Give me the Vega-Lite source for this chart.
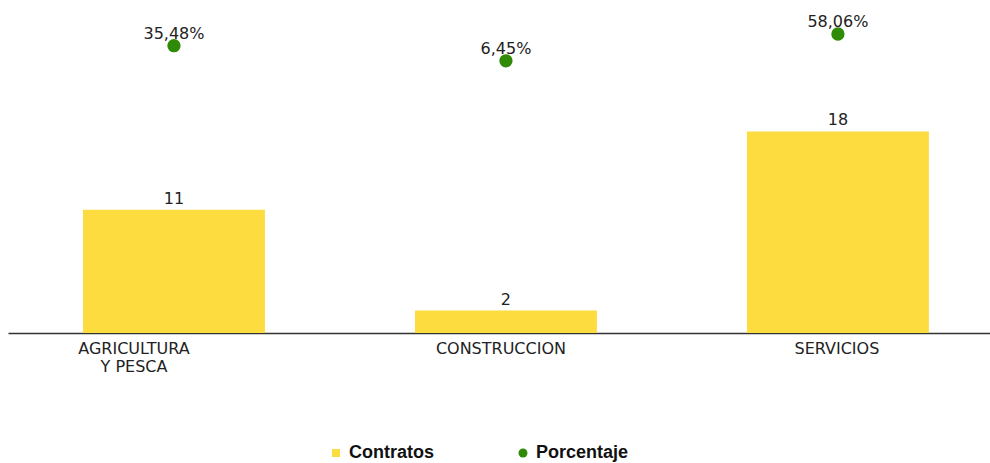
{
  "$schema": "https://vega.github.io/schema/vega-lite/v6.json",
  "width": 982,
  "height": 333,
  "autosize": {"type": "none"},
  "padding": {"left": 8, "top": 0, "right": 0, "bottom": 130},
  "background": "white",
  "config": {"view": {"stroke": null}},
  "data": {
    "values": [
      {"sector": "AGRICULTURA Y PESCA", "contratos": 11, "porcentaje": 35.48, "pct_label": "35,48%"},
      {"sector": "CONSTRUCCION", "contratos": 2, "porcentaje": 6.45, "pct_label": "6,45%"},
      {"sector": "SERVICIOS", "contratos": 18, "porcentaje": 58.06, "pct_label": "58,06%"}
    ]
  },
  "encoding": {
    "x": {
      "field": "sector",
      "type": "nominal",
      "sort": null,
      "scale": {"paddingInner": 0.452, "paddingOuter": 0.205, "align": 0.551},
      "axis": {
        "title": null,
        "labelAngle": 0,
        "ticks": false,
        "labelPadding": 7,
        "labelFont": "DejaVu Sans",
        "labelFontSize": 16,
        "labelColor": "#222222",
        "domainColor": "#333333",
        "domainWidth": 1.5,
        "labelLineHeight": 18,
        "labelOffset": {"expr": "datum.value == 'AGRICULTURA Y PESCA' ? -40 : (datum.value == 'CONSTRUCCION' ? -5 : -1)"},
        "labelExpr": "datum.value == 'AGRICULTURA Y PESCA' ? ['AGRICULTURA', 'Y PESCA'] : datum.label"
      }
    }
  },
  "layer": [
    {
      "encoding": {
        "y": {"field": "contratos", "type": "quantitative", "scale": {"domain": [0, 29.73]}, "axis": null}
      },
      "layer": [
        {
          "mark": {"type": "bar"},
          "encoding": {
            "color": {
              "datum": "Contratos",
              "type": "nominal",
              "scale": {"domain": ["Contratos", "Porcentaje"], "range": ["#FDDC40", "#2F8A05"]},
              "legend": {
                "orient": "none",
                "legendX": 319,
                "legendY": 444,
                "direction": "horizontal",
                "title": null,
                "labelFont": "Liberation Sans",
                "labelFontWeight": "bold",
                "labelFontSize": 18,
                "labelColor": "#111111",
                "labelOffset": 4,
                "columnPadding": 80,
                "symbolSize": 80,
                "symbolStrokeWidth": 0,
                "symbolOpacity": 1,
                "padding": 0,
                "encode": {
                  "symbols": {
                    "update": {
                      "shape": {"signal": "datum.value === 'Contratos' ? 'square' : 'circle'"},
                      "size": {"signal": "datum.value === 'Contratos' ? 64 : 80"}
                    }
                  }
                }
              }
            }
          }
        },
        {
          "mark": {"type": "text", "baseline": "alphabetic", "dy": -6, "font": "DejaVu Sans", "fontSize": 16, "color": "#222222"},
          "encoding": {"text": {"field": "contratos", "type": "quantitative"}}
        }
      ]
    },
    {
      "encoding": {
        "y": {"field": "porcentaje", "type": "quantitative", "scale": {"domain": [-517, 123.4]}, "axis": null}
      },
      "layer": [
        {
          "mark": {"type": "text", "baseline": "alphabetic", "dy": -7, "font": "DejaVu Sans", "fontSize": 16, "color": "#222222"},
          "encoding": {"text": {"field": "pct_label", "type": "nominal"}}
        },
        {
          "mark": {"type": "point", "filled": true, "shape": "circle", "size": 177, "opacity": 1},
          "encoding": {"color": {"datum": "Porcentaje", "type": "nominal"}}
        }
      ]
    }
  ],
  "resolve": {"scale": {"y": "independent"}}
}
